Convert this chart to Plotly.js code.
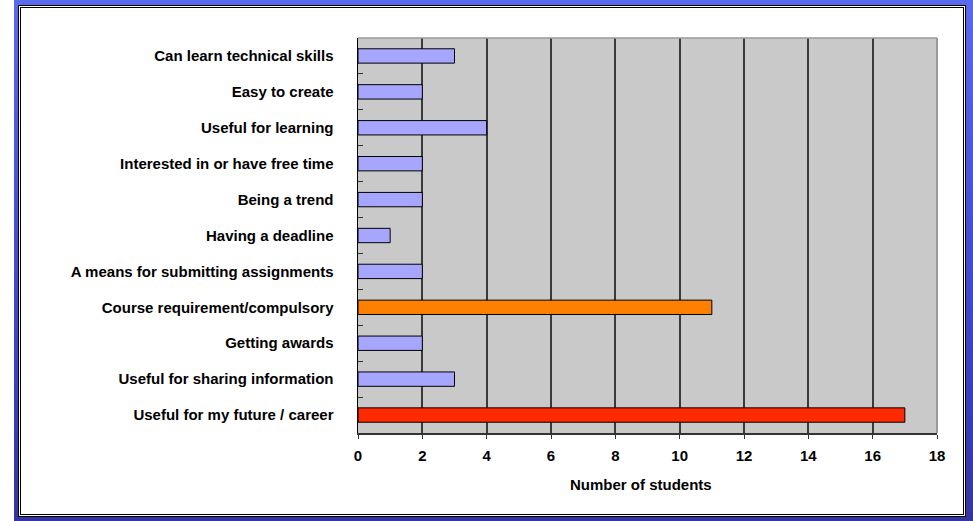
<!DOCTYPE html>
<html>
<head>
<meta charset="utf-8">
<script src="https://cdn.plot.ly/plotly-3.0.1.min.js"></script>
<style>
html,body{margin:0;padding:0;width:973px;height:521px;overflow:hidden;background:#fff;}
body{position:relative;}
#bg{position:absolute;left:14px;top:0;right:0;bottom:0;
  background:linear-gradient(180deg,#5a6aec 0%,#4452d6 40%,#3a3fbe 75%,#34369f 100%);}
#frame{position:absolute;left:18px;top:5px;width:948px;height:512px;background:#fff;border:1px solid #000;box-sizing:border-box;}
#frame2{position:absolute;left:1px;top:1px;right:1px;bottom:1px;border:1px solid #000;}
#chart{position:absolute;left:0;top:0;width:973px;height:521px;}
</style>
</head>
<body>
<div id="bg"></div>
<div id="frame"><div id="frame2"></div></div>
<div id="chart"></div>
<script>
var categories = [
  "Useful for my future / career",
  "Useful for sharing information",
  "Getting awards",
  "Course requirement/compulsory",
  "A means for submitting assignments",
  "Having a deadline",
  "Being a trend",
  "Interested in or have free time",
  "Useful for learning",
  "Easy to create",
  "Can learn technical skills"
];
var students = [17, 3, 2, 11, 2, 1, 2, 2, 4, 2, 3];
var barColors = ["#FF2A00", "#A6A6FF", "#A6A6FF", "#FF7F00", "#A6A6FF", "#A6A6FF", "#A6A6FF", "#A6A6FF", "#A6A6FF", "#A6A6FF", "#A6A6FF"];
var xTicks = [0, 2, 4, 6, 8, 10, 12, 14, 16, 18];
var xTitle = "Number of students";

var trace = {
  type: "bar",
  orientation: "h",
  y: categories,
  x: students,
  width: 0.4,
  marker: {color: barColors, line: {color: "#000", width: 1}},
  hoverinfo: "x+y"
};

var layout = {
  width: 973, height: 521,
  margin: {l: 358, r: 36, t: 38, b: 88},
  paper_bgcolor: "rgba(0,0,0,0)",
  plot_bgcolor: "#C9C9C9",
  showlegend: false,
  font: {family: "Liberation Sans, Arial, sans-serif", size: 15, color: "#000"},
  xaxis: {
    range: [0, 18],
    tickvals: xTicks,
    ticktext: xTicks.map(String),
    tickfont: {size: 15, weight: "bold"},
    showgrid: true, gridcolor: "#3a3a3a", gridwidth: 2,
    zeroline: false,
    showline: true, linecolor: "#333", linewidth: 1.5,
    ticks: "outside", ticklen: 4, tickcolor: "#333",
    ticklabelstandoff: 4,
    automargin: false
  },
  yaxis: {
    type: "category",
    categoryorder: "array", categoryarray: categories,
    range: [-0.5, 10.5],
    tickfont: {size: 15, weight: "bold"},
    showgrid: false, zeroline: false,
    showline: true, linecolor: "#000", linewidth: 1.5,
    ticks: "inside", tickson: "boundaries", ticklen: 5, tickcolor: "#333",
    ticklabelstandoff: 20,
    automargin: false
  },
  annotations: [
    {text: "<b>" + xTitle + "</b>", xref: "paper", yref: "paper", x: 0.4888, y: -0.1316,
     xanchor: "center", yanchor: "middle", showarrow: false, font: {size: 15, color: "#000"}}
  ],
  shapes: [
    {type: "line", xref: "paper", yref: "paper", x0: 0, x1: 1, y0: 1, y1: 1, line: {color: "#999", width: 1.5}},
    {type: "line", xref: "paper", yref: "paper", x0: 1, x1: 1, y0: 0, y1: 1, line: {color: "#999", width: 2}}
  ]
};

Plotly.newPlot("chart", [trace], layout, {displayModeBar: false, staticPlot: true});
</script>
</body>
</html>
